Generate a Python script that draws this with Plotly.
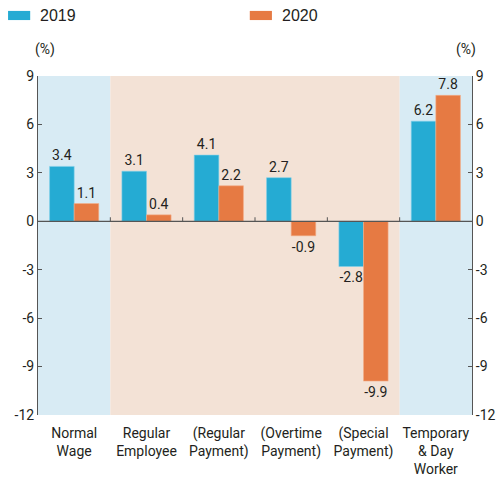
import plotly.graph_objects as go

categories = ["Normal<br>Wage", "Regular<br>Employee", "(Regular<br>Payment)",
              "(Overtime<br>Payment)", "(Special<br>Payment)", "Temporary<br>& Day<br>Worker"]
v2019 = [3.4, 3.1, 4.1, 2.7, -2.8, 6.2]
v2020 = [1.1, 0.4, 2.2, -0.9, -9.9, 7.8]
y_ticks = [9, 6, 3, 0, -3, -6, -9, -12]

BLUE = "#25abd3"
ORANGE = "#e67a43"
FONT = "Roboto, Liberation Sans, sans-serif"
TXT = "#231f20"

idx = list(range(len(categories)))
fig = go.Figure()
fig.add_bar(x=idx, y=v2019, name="2019", marker=dict(color=BLUE, line=dict(width=0.6, color="#7fd0ea")),
            text=[f"{v:.1f}" for v in v2019], textposition="outside", cliponaxis=False,
            textfont=dict(size=14, color=TXT, family=FONT))
fig.add_bar(x=idx, y=v2020, name="2020", marker=dict(color=ORANGE, line=dict(width=0.6, color="#f3ae8a")),
            text=[f"{v:.1f}" for v in v2020], textposition="outside", cliponaxis=False,
            textfont=dict(size=14, color=TXT, family=FONT))
# invisible trace for right axis
fig.add_scatter(x=[idx[0]], y=[0], yaxis="y2", mode="markers", marker=dict(opacity=0), showlegend=False, hoverinfo="skip")

shapes = []
bands = [(-0.5, 0.5, "#d8ebf4"), (0.5, 4.5, "#f3e2d6"), (4.5, 5.5, "#d8ebf4")]
for x0, x1, c in bands:
    shapes.append(dict(type="rect", xref="x", yref="y", x0=x0, x1=x1, y0=-12, y1=9,
                       fillcolor=c, line=dict(width=0), layer="below"))
shapes.append(dict(type="line", xref="x", yref="y", x0=-0.5, x1=5.5, y0=0, y1=0,
                   line=dict(color="#555555", width=1.2), layer="above"))
for b in [0.5, 1.5, 2.5, 3.5, 4.5]:
    shapes.append(dict(type="line", xref="x", yref="y", x0=b, x1=b, y0=0, y1=0.25,
                       line=dict(color="#555555", width=1), layer="above"))
# legend swatches
shapes.append(dict(type="rect", xref="paper", yref="paper", x0=-0.069, x1=-0.018, y0=1.192, y1=1.165,
                   fillcolor=BLUE, line=dict(width=0)))
shapes.append(dict(type="rect", xref="paper", yref="paper", x0=0.488, x1=0.539, y0=1.192, y1=1.165,
                   fillcolor=ORANGE, line=dict(width=0)))

LEGFONT = dict(size=16, color=TXT, family="Liberation Sans, Arial, sans-serif")
annotations = [
    dict(text="2019", xref="paper", yref="paper", x=0.0, y=1.177, xanchor="left", yanchor="middle",
         showarrow=False, font=LEGFONT),
    dict(text="2020", xref="paper", yref="paper", x=0.558, y=1.177, xanchor="left", yanchor="middle",
         showarrow=False, font=LEGFONT),
    dict(text="(%)", xref="paper", yref="paper", x=0.016, y=1.077, xanchor="center", yanchor="middle",
         showarrow=False, font=dict(size=14, color=TXT, family=FONT)),
    dict(text="(%)", xref="paper", yref="paper", x=0.986, y=1.077, xanchor="center", yanchor="middle",
         showarrow=False, font=dict(size=14, color=TXT, family=FONT)),
]

axis_common = dict(range=[-12, 9], tickvals=y_ticks, ticktext=[str(t) for t in y_ticks],
                   ticks="inside", ticklen=4, tickcolor="#555555", showgrid=False, zeroline=False,
                   showline=True, linecolor="#555555", linewidth=1, automargin=False,
                   tickfont=dict(size=14, color=TXT, family=FONT))
fig.update_layout(
    width=502, height=477, autosize=False,
    margin=dict(l=38, r=30, t=76, b=62, autoexpand=False),
    paper_bgcolor="white", plot_bgcolor="white",
    barmode="group", bargap=0.32, bargroupgap=0,
    showlegend=False,
    xaxis=dict(tickvals=idx, ticktext=categories, range=[-0.5, 5.5], showgrid=False, zeroline=False,
               showline=False, ticks="", automargin=False, ticklabelstandoff=8,
               tickfont=dict(size=14, color=TXT, family=FONT)),
    yaxis=dict(**axis_common, side="left"),
    yaxis2=dict(**axis_common, side="right", overlaying="y"),
    shapes=shapes, annotations=annotations,
)
fig.write_html("out.html", config={"responsive": False, "displayModeBar": False},
               post_script="document.body.style.margin='0';document.body.style.overflow='hidden';")
